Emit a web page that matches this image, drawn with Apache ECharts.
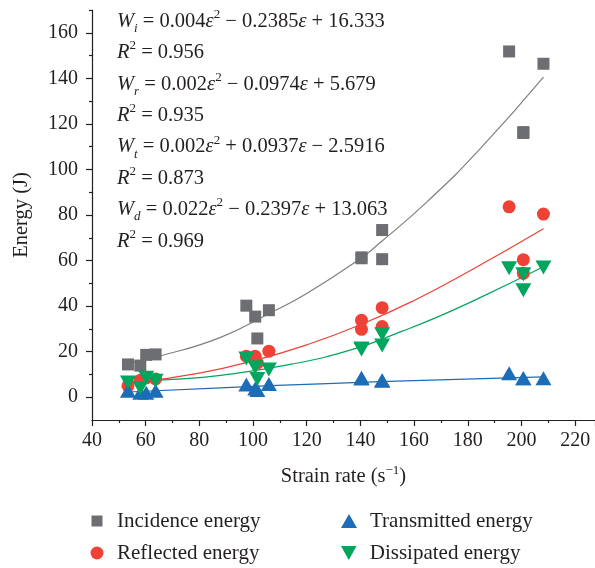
<!DOCTYPE html>
<html>
<head>
<meta charset="utf-8">
<script src="https://cdn.jsdelivr.net/npm/echarts@6/dist/echarts.min.js"></script>
<style>
  html, body { margin: 0; padding: 0; background: #ffffff; }
  #chart { width: 595px; height: 568px; }
</style>
</head>
<body>
<div id="chart"></div>
<script>
// Strain rate of each specimen (s^-1)
const strainRate  = [53.4, 58.0, 60.2, 63.7, 97.5, 100.8, 101.6, 105.9, 140.4, 140.4, 148.1, 148.1, 195.4, 200.7, 200.7, 208.2];
// Energies (J)
const incidence   = [14.4, 13.9, 18.6, 18.8, 40.2, 35.4, 25.8, 38.2, 61.0, 61.4, 73.4, 60.6, 151.8, 116.4, 116.0, 146.4];
const reflected   = [5.0, 7.5, 8.5, 8.0, 18.0, 18.0, 15.0, 20.2, 33.8, 29.8, 39.3, 31.0, 83.6, 60.4, 54.4, 80.4];
const transmitted = [2.8, 2.0, 2.0, 2.8, 5.6, 3.8, 3.2, 5.8, 8.5, 8.2, 7.5, 7.2, 10.5, 8.3, 8.3, 8.3];
const dissipated  = [6.5, 4.0, 8.5, 7.2, 17.0, 13.2, 8.0, 12.2, 21.0, 21.4, 27.6, 22.7, 56.6, 54.0, 47.0, 57.0];

// Fitted trend curves (strain rate, energy)
const fitIncX = [53.4, 66, 87.9, 106.4, 120, 139.9, 147.3, 165, 184.4, 208.2];
const fitIncY = [15.0, 18.3, 26.3, 37.0, 45.5, 60.8, 67.8, 86.0, 108.8, 140.5];
const fitRefX = [53.4, 80, 100, 120, 140, 160, 180, 208.2];
const fitRefY = [6.0, 10.6, 16.0, 23.0, 31.8, 42.5, 55.0, 74.0];
const fitTraX = [53.4, 87.9, 125, 169.5, 208.2];
const fitTraY = [2.3, 4.1, 5.9, 7.6, 8.9];
const fitDisX = [53.4, 70, 87.9, 113.9, 137.1, 155.6, 169.5, 184.4, 208.2];
const fitDisY = [7.0, 7.8, 9.6, 14.4, 21.0, 29.0, 35.6, 43.6, 57.3];

// Axis tick values
const yMajorTicks = [0, 20, 40, 60, 80, 100, 120, 140, 160];
const yMinorTicks = [10, 30, 50, 70, 90, 110, 130, 150, 170];

// Fit equations, one line each
const equationLines = [
  '{it|W}{sub|i} = 0.004{it|ε}{sup|2} − 0.2385{it|ε} + 16.333',
  '{it|R}{sup|2} = 0.956',
  '{it|W}{sub|r} = 0.002{it|ε}{sup|2} − 0.0974{it|ε} + 5.679',
  '{it|R}{sup|2} = 0.935',
  '{it|W}{sub|t} = 0.002{it|ε}{sup|2} + 0.0937{it|ε} − 2.5916',
  '{it|R}{sup|2} = 0.873',
  '{it|W}{sub|d} = 0.022{it|ε}{sup|2} − 0.2397{it|ε} + 13.063',
  '{it|R}{sup|2} = 0.969'
];

const FONT = '"Liberation Serif", "DejaVu Serif", serif';
const INK = '#231f20';
const C_GRAY = '#6d6e71', C_RED = '#ef4136', C_BLUE = '#1c6db8', C_GREEN = '#00a65d';
const DOWN_TRI = 'path://M0,0L10,0L5,9Z';
const EQ_SIZE = 20.5;

const zip = (xs, ys) => xs.map((x, i) => [x, ys[i]]);

const eqRich = {
  it:  { fontFamily: FONT, fontSize: EQ_SIZE, fontStyle: 'italic', fill: INK, lineHeight: 27 },
  sub: { fontFamily: FONT, fontSize: 13, fontStyle: 'italic', fill: INK, verticalAlign: 'bottom', lineHeight: 27 },
  sup: { fontFamily: FONT, fontSize: 13, fill: INK, verticalAlign: 'top', lineHeight: 27 }
};

const equationGraphics = equationLines.map((txt, i) => ({
  type: 'text',
  left: 117,
  top: 8 + i * 31.4,
  silent: true,
  style: {
    text: txt,
    fontFamily: FONT,
    fontSize: EQ_SIZE,
    fill: INK,
    lineHeight: 27,
    rich: eqRich
  }
}));

function lineSeries(name, xs, ys, color) {
  return {
    name: name, type: 'line', data: zip(xs, ys), smooth: true, symbol: 'none',
    silent: true, z: 1, lineStyle: { color: color, width: 1.2 }
  };
}

// One legend block per entry: icon centre cx, text start tx, row centre cy
function legendAt(name, cx, tx, cy, w, h) {
  const left = cx - w / 2;
  return {
    data: [name], left: left, top: cy - 10.5, padding: 0,
    itemWidth: w, itemHeight: h, selectedMode: false,
    textStyle: {
      fontFamily: FONT, fontSize: 21, color: INK, lineHeight: 21,
      padding: [0, 0, 0, tx - (left + w + 5)]
    }
  };
}

const chart = echarts.init(document.getElementById('chart'), null, { renderer: 'canvas' });
chart.setOption({
  animation: false,
  backgroundColor: '#ffffff',
  textStyle: { fontFamily: FONT },
  grid: { left: 92, right: 0, top: 10, bottom: 148, containLabel: false },
  legend: [
    legendAt('Incidence energy', 97, 117, 521, 11, 11),
    legendAt('Reflected energy', 97, 117, 553, 13, 13),
    legendAt('Transmitted energy', 349, 370, 521, 16, 14),
    legendAt('Dissipated energy', 349, 370, 553, 16, 14)
  ],
  xAxis: {
    type: 'value', min: 40, max: 227.4, interval: 20,
    name: 'Strain rate (s{sup|−1})', nameLocation: 'middle', nameGap: 44,
    nameTextStyle: {
      fontFamily: FONT, fontSize: 20.5, color: INK, lineHeight: 25,
      rich: { sup: { fontFamily: FONT, fontSize: 13, color: INK, verticalAlign: 'top', lineHeight: 25 } }
    },
    axisLine: { onZero: false, lineStyle: { color: INK, width: 1.2 } },
    axisTick: { length: 6, lineStyle: { color: INK, width: 1.2 } },
    minorTick: { show: true, splitNumber: 2, length: 3, lineStyle: { color: INK, width: 1.2 } },
    axisLabel: { fontFamily: FONT, fontSize: 20, color: INK, margin: 11 },
    splitLine: { show: false }
  },
  yAxis: [
    {
      type: 'value', min: -10, max: 170,
      name: 'Energy (J)', nameLocation: 'middle', nameGap: 60,
      nameTextStyle: { fontFamily: FONT, fontSize: 20.5, color: INK },
      axisLine: { show: true, onZero: false, lineStyle: { color: INK, width: 1.2 } },
      axisTick: { show: true, length: 6, customValues: yMajorTicks, lineStyle: { color: INK, width: 1.2 } },
      axisLabel: { fontFamily: FONT, fontSize: 20, color: INK, margin: 14, customValues: yMajorTicks },
      splitLine: { show: false }
    },
    {
      type: 'value', min: -10, max: 170, position: 'left',
      axisLine: { show: false },
      axisTick: { show: true, length: 3, customValues: yMinorTicks, lineStyle: { color: INK, width: 1.2 } },
      axisLabel: { show: false },
      splitLine: { show: false }
    }
  ],
  graphic: equationGraphics,
  series: [
    lineSeries('fitInc', fitIncX, fitIncY, '#7f7f7f'),
    lineSeries('fitRef', fitRefX, fitRefY, C_RED),
    lineSeries('fitTra', fitTraX, fitTraY, C_BLUE),
    lineSeries('fitDis', fitDisX, fitDisY, C_GREEN),
    {
      name: 'Incidence energy', type: 'scatter', data: zip(strainRate, incidence),
      symbol: 'rect', symbolSize: 12, z: 3, itemStyle: { color: C_GRAY, opacity: 1 }
    },
    {
      name: 'Reflected energy', type: 'scatter', data: zip(strainRate, reflected),
      symbol: 'circle', symbolSize: 13, z: 4, itemStyle: { color: C_RED, opacity: 1 }
    },
    {
      name: 'Transmitted energy', type: 'scatter', data: zip(strainRate, transmitted),
      symbol: 'triangle', symbolSize: [16, 14], z: 5, itemStyle: { color: C_BLUE, opacity: 1 }
    },
    {
      name: 'Dissipated energy', type: 'scatter', data: zip(strainRate, dissipated),
      symbol: DOWN_TRI, symbolSize: [16, 14], z: 6, itemStyle: { color: C_GREEN, opacity: 1 }
    }
  ]
});
</script>
</body>
</html>
